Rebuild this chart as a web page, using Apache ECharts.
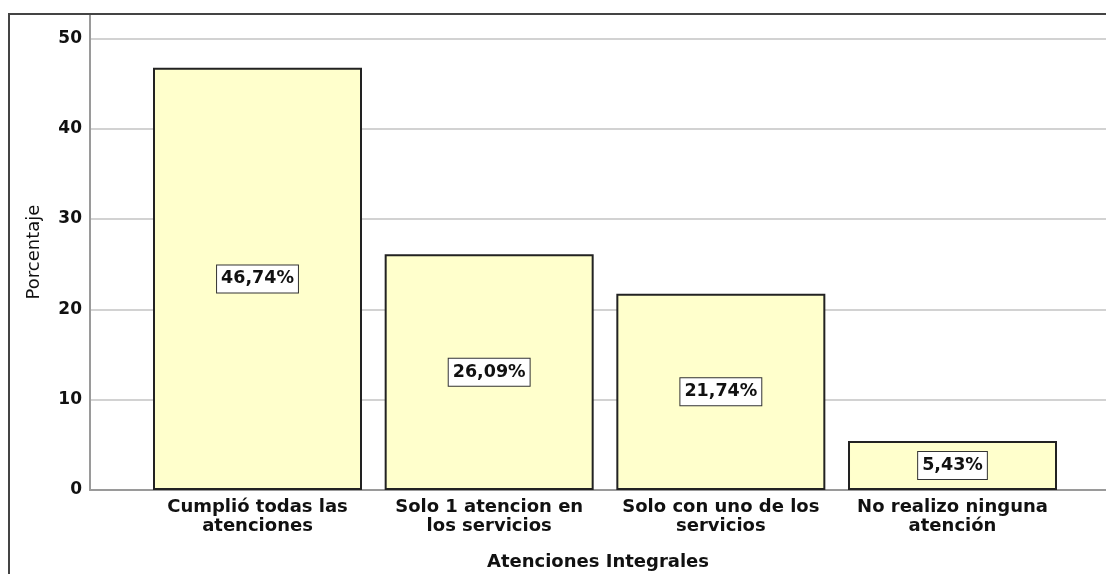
<!DOCTYPE html>
<html>
<head>
<meta charset="utf-8">
<script src="https://cdn.jsdelivr.net/npm/echarts@6/dist/echarts.min.js"></script>
<style>
  html, body { margin: 0; padding: 0; background: #fff; }
  #main { width: 1106px; height: 574px; }
</style>
</head>
<body>
<div id="main"></div>
<script>
var categories = [
  "Cumplió todas las\natenciones",
  "Solo 1 atencion en\nlos servicios",
  "Solo con uno de los\nservicios",
  "No realizo ninguna\natención"
];
var percentages = [46.74, 26.09, 21.74, 5.43];
var yTicks = [0, 10, 20, 30, 40, 50];

var font = "DejaVu Sans";
var yMax = 52.7;

var chartDom = document.getElementById("main");
var myChart = echarts.init(chartDom);

var option = {
  animation: false,
  grid: [
    // frame grid: value axis, gridlines and the x axis line
    { left: 90, right: 0, top: 14, bottom: 84, outerBoundsMode: "none" },
    // bar grid, inset so the bars sit where the reference has them
    { left: 141.67, width: 926.67, top: 14, bottom: 84, outerBoundsMode: "none" }
  ],
  xAxis: [
    {
      gridIndex: 0,
      type: "value",
      min: 0,
      max: 1,
      axisLine: { show: true, lineStyle: { color: "#9a9a9a", width: 2 } },
      axisTick: { show: false },
      axisLabel: { show: false },
      splitLine: { show: false },
      name: "Atenciones Integrales",
      nameLocation: "middle",
      nameGap: 63,
      nameTextStyle: { fontFamily: font, fontWeight: "bold", fontSize: 18, color: "#111" }
    },
    {
      gridIndex: 1,
      type: "category",
      data: categories,
      axisLine: { show: false },
      axisTick: { show: false },
      axisLabel: {
        interval: 0,
        margin: 8,
        fontFamily: font,
        fontWeight: "bold",
        fontSize: 18,
        lineHeight: 19,
        color: "#111"
      }
    }
  ],
  yAxis: [
    {
      gridIndex: 0,
      type: "value",
      min: 0,
      max: yMax,
      interval: 10,
      name: "Porcentaje",
      nameLocation: "middle",
      nameGap: 47,
      nameTextStyle: { fontFamily: font, fontSize: 18, color: "#111" },
      axisLine: { show: true, lineStyle: { color: "#9a9a9a", width: 2 } },
      axisTick: { show: false },
      axisLabel: {
        margin: 8,
        fontFamily: font,
        fontWeight: "bold",
        fontSize: 17,
        color: "#111",
        showMaxLabel: false,
        verticalAlignMinLabel: "middle",
        formatter: function (v) {
          return yTicks.indexOf(v) >= 0 ? String(v) : "";
        }
      },
      splitLine: { show: true, lineStyle: { color: "#d2d2d2", width: 2 } }
    },
    {
      gridIndex: 1,
      type: "value",
      min: 0,
      max: yMax,
      show: false
    }
  ],
  series: [
    {
      type: "bar",
      xAxisIndex: 1,
      yAxisIndex: 1,
      data: percentages,
      barWidth: 209,
      itemStyle: { color: "#ffffcc", borderColor: "#222", borderWidth: 2 },
      label: {
        show: true,
        position: "inside",
        fontFamily: font,
        fontWeight: "bold",
        fontSize: 17.5,
        color: "#111",
        backgroundColor: "#fff",
        borderColor: "#333",
        borderWidth: 1,
        padding: [4, 4, 3, 4],
        lineHeight: 20,
        formatter: function (p) {
          return p.value.toFixed(2).replace(".", ",") + "%";
        }
      }
    }
  ],
  graphic: [
    {
      type: "polyline",
      silent: true,
      z: 100,
      shape: { points: [[9, 574], [9, 14], [1106, 14]] },
      style: { stroke: "#444", lineWidth: 2, fill: null }
    }
  ]
};

option && myChart.setOption(option);
</script>
</body>
</html>
